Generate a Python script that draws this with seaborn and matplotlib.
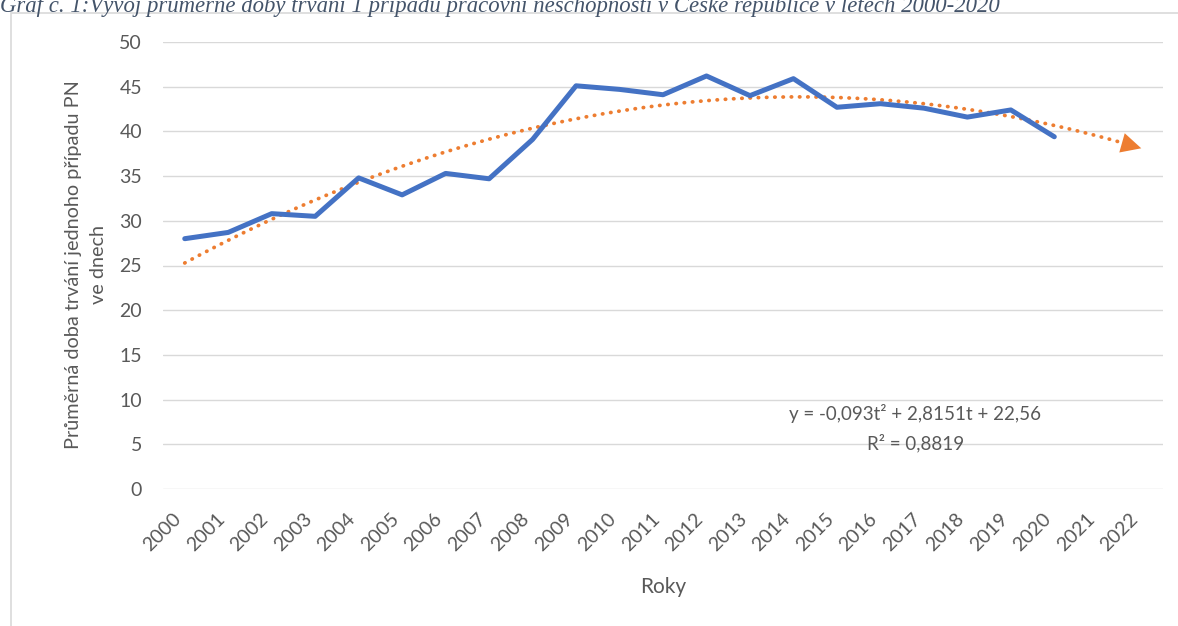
import numpy as np
import pandas as pd
import matplotlib
matplotlib.use('Agg')
import matplotlib.pyplot as plt
import seaborn as sns
from matplotlib.patches import Rectangle

# data
roky = [2000, 2001, 2002, 2003, 2004, 2005, 2006, 2007, 2008, 2009, 2010,
        2011, 2012, 2013, 2014, 2015, 2016, 2017, 2018, 2019, 2020]
dny = [28.0, 28.7, 30.8, 30.5, 34.8, 32.9, 35.3, 34.7, 39.1, 45.1, 44.7,
       44.1, 46.2, 44.0, 45.9, 42.7, 43.1, 42.6, 41.6, 42.4, 39.4]
osa_roky = [2000, 2001, 2002, 2003, 2004, 2005, 2006, 2007, 2008, 2009, 2010, 2011,
            2012, 2013, 2014, 2015, 2016, 2017, 2018, 2019, 2020, 2021, 2022]
# polynomial trend as printed in the chart: y = a t^2 + b t + c, t = 1 for 2000
trend_coef = [-0.093, 2.8151, 22.56]

nadpis = ('Graf č. 1:Vývoj průměrné doby trvání 1 případu pracovní neschopnosti '
          'v České republice v letech 2000-2020')
rovnice = 'y = -0,093t² + 2,8151t + 22,56'
r2 = 'R² = 0,8819'

df = pd.DataFrame({'Rok': roky, 'Dny': dny})

sns.set_theme(style='white')
plt.rcParams['font.family'] = ['Lato', 'DejaVu Sans']
seda = '#595959'

fig = plt.figure(figsize=(11.78, 6.26), dpi=100)
ax = fig.add_axes([163 / 1178, 1 - 489 / 626, 1000 / 1178, 447 / 626])

for v in range(0, 51, 5):
    ax.axhline(v, color='#D9D9D9', lw=1, zorder=0)

# trendline (dotted, with arrow head at end)
t = np.linspace(1, len(osa_roky), 300)
trend = np.polyval(trend_coef, t)
rok_t = t + osa_roky[0] - 1
ax.plot(rok_t[:-4], trend[:-4], color='#ED7D31', lw=2.7, linestyle=(0, (0.1, 2.1)),
        dash_capstyle='round', zorder=2)
ax.annotate('', xy=(rok_t[-1], trend[-1]), xytext=(rok_t[-14], trend[-14]),
            arrowprops=dict(arrowstyle='-|>,head_length=0.6,head_width=0.3',
                            color='#ED7D31', lw=0,
                            mutation_scale=24, shrinkA=0, shrinkB=0), zorder=3)

sns.lineplot(data=df, x='Rok', y='Dny', ax=ax, color='#4472C4', lw=3.6,
             solid_capstyle='round', zorder=4)

ax.set_xlim(osa_roky[0] - 0.5, osa_roky[-1] + 0.5)
ax.set_ylim(0, 50)
ax.set_yticks(range(0, 51, 5))
ax.set_xticks(osa_roky)
ax.set_xticklabels([str(r) for r in osa_roky], rotation=45, ha='right', va='top')
ax.tick_params(axis='y', length=0, pad=15, labelsize=14, labelcolor=seda)
ax.tick_params(axis='x', length=0, pad=15, labelsize=14, labelcolor=seda)
for s in ax.spines.values():
    s.set_visible(False)
ax.set_xlabel('')
ax.set_ylabel('')

ax.text(2016.8, 8.5, rovnice, ha='center', va='center', fontsize=13.5, color=seda)
ax.text(2016.8, 5.15, r2, ha='center', va='center', fontsize=13.5, color=seda)

fig.text(86 / 1178, 1 - 265 / 626, 'Průměrná doba trvání jednoho případu PN\nve dnech',
         rotation=90, ha='center', va='center', multialignment='center',
         fontsize=14.3, color=seda, linespacing=1.5)
fig.text(663 / 1178, 1 - 587 / 626, 'Roky', ha='center', va='center',
         fontsize=15, color=seda)

# outer chart frame, partly cut by the picture edge
fig.patches.append(Rectangle((11 / 1178, -0.1), 1.2, 1 - 13 / 626 + 0.1,
                             transform=fig.transFigure, fill=False,
                             edgecolor='#D9D9D9', lw=1.2))

fig.text(0.0, 1 - 12 / 626, nadpis, ha='left', va='baseline', fontsize=16.4,
         color='#44546A', style='italic', family=['Liberation Serif', 'DejaVu Serif'])

fig.savefig('out.png', dpi=100)
